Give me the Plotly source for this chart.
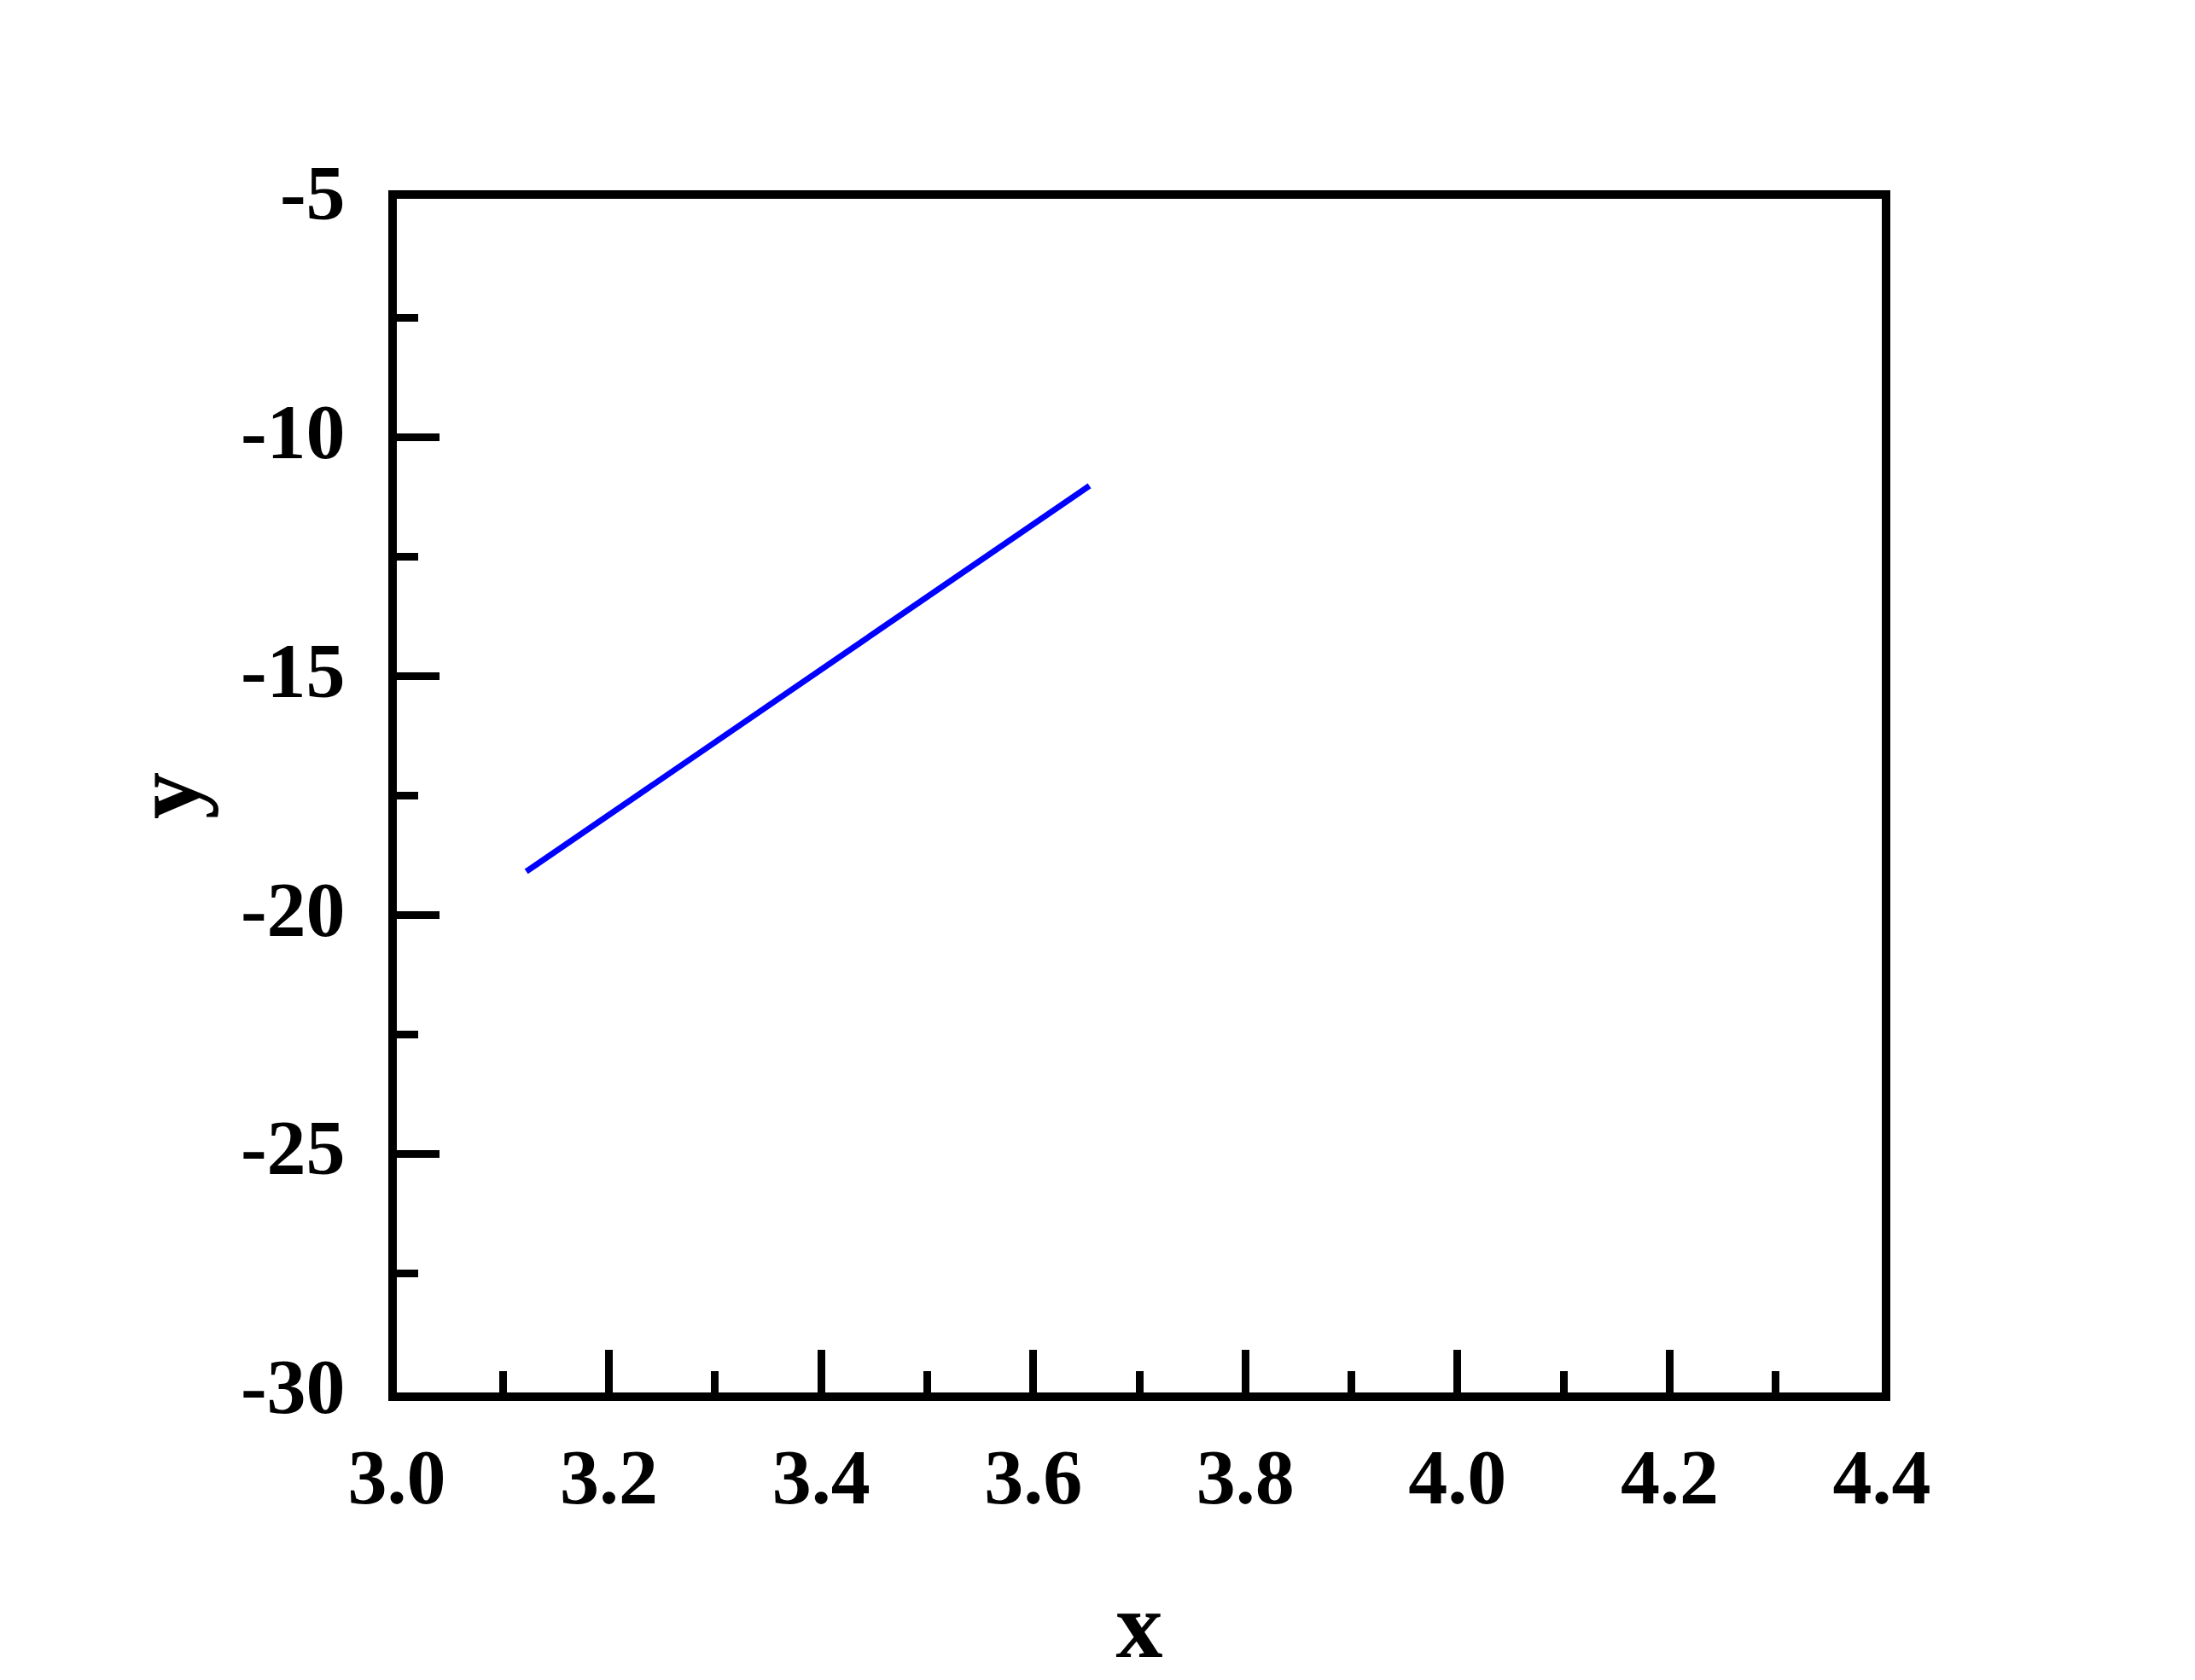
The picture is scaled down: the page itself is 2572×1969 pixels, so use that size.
import plotly.graph_objects as go

# Data
x_vals = [3.122, 3.653]
y_vals = [-19.09, -11.01]

x_tickvals = [3.0, 3.2, 3.4, 3.6, 3.8, 4.0, 4.2, 4.4]
x_ticktext = ["3.0", "3.2", "3.4", "3.6", "3.8", "4.0", "4.2", "4.4"]
y_tickvals = [-5, -10, -15, -20, -25, -30]
y_ticktext = ["-5", "-10", "-15", "-20", "-25", "-30"]

FONT = "Liberation Serif"

fig = go.Figure()
fig.add_trace(go.Scatter(x=x_vals, y=y_vals, mode="lines",
                         line=dict(color="#0000FF", width=7), showlegend=False))

axis_common = dict(
    showline=True, linecolor="black", linewidth=10, mirror=True,
    showgrid=False, zeroline=False,
    ticks="inside", ticklen=50, tickwidth=9, tickcolor="black",
    tickfont=dict(family=FONT, size=92, color="black", weight="bold"),
)

fig.update_xaxes(
    range=[3.0, 4.4], tickmode="array", tickvals=x_tickvals, ticktext=x_ticktext,
    minor=dict(ticks="inside", ticklen=25, tickwidth=9, tickcolor="black", dtick=0.1, tick0=3.0),
    title=dict(text="<b>x</b>", font=dict(family=FONT, size=110, color="black"), standoff=88),
    ticklabelstandoff=10,
    **axis_common,
)
fig.update_yaxes(
    range=[-30, -5], tickmode="array", tickvals=y_tickvals, ticktext=y_ticktext,
    minor=dict(ticks="inside", ticklen=25, tickwidth=9, tickcolor="black", dtick=2.5, tick0=-30),
    title=dict(text="<b>y</b>", font=dict(family=FONT, size=110, color="black"), standoff=15),
    ticklabelstandoff=32,
    ticklabelshift=-8,
    **axis_common,
)

fig.update_layout(
    width=2572, height=1969,
    margin=dict(l=457, r=375, t=225, b=345, pad=0),
    paper_bgcolor="white", plot_bgcolor="white",
)

fig.write_html("out.html")
